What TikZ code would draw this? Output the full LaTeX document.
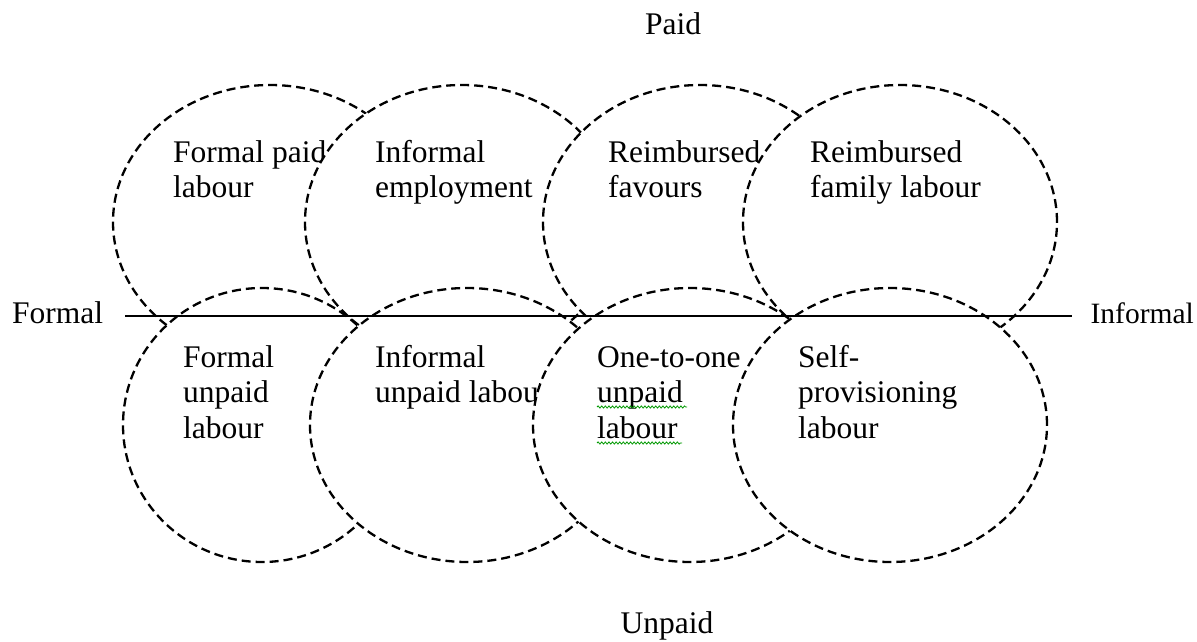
\documentclass[tikz,border=0pt]{standalone}
\usepackage{fontspec}
\setmainfont{Liberation Serif}
\usetikzlibrary{shapes.geometric,decorations.pathmorphing}
% multi-line label whose baseline is that of its first line
\newcommand\zonelines[1]{\vtop{\halign{##\hfil\cr#1\crcr}}}
\begin{document}
\begin{tikzpicture}[x=1pt,y=-1pt,
  zone/.style={ellipse, draw=black, fill=white, dash pattern=on 9pt off 5pt,
    line width=2.3pt, inner sep=0pt, minimum width=314pt, minimum height=274pt},
  labeltext/.style={inner sep=0pt, font=\fontsize{31.5}{35.5}\selectfont},
  zonetext/.style={labeltext, anchor=base west},
  squiggle/.style={draw=green!60!black, line width=0.8pt, decorate,
    decoration={snake, amplitude=1.1pt, segment length=3.6pt}}
]
\path[use as bounding box] (0,0) rectangle (1197,642);

% paid row
\node[zone] (c1) at (270,222) {};
\node[zonetext] (t1) at (173,162) {\zonelines{Formal paid\cr labour}};
\node[zone] (c2) at (462,222) {};
\node[zonetext] (t2) at (375,162) {\zonelines{Informal\cr employment}};
\node[zone] (c3) at (700,222) {};
\node[zonetext] (t3) at (608,162) {\zonelines{Reimbursed\cr favours}};
\node[zone] (c4) at (900,222) {};
\node[zonetext] (t4) at (810,162) {\zonelines{Reimbursed\cr family labour}};

% unpaid row
\node[zone, minimum width=278pt] (c5) at (262,425) {};
\node[zonetext] (t5) at (183,367) {\zonelines{Formal\cr unpaid\cr labour}};
\node[zone] (c6) at (467,425) {};
\node[zonetext] (t6) at (375,367) {\zonelines{Informal\cr unpaid labour}};
\node[zone] (c7) at (690,425) {};
\node[zonetext] (t7) at (597,367) {\zonelines{One-to-one\cr unpaid\cr labour}};
\node[zone] (c8) at (890,425) {};
\node[zonetext] (t8) at (798,367) {\zonelines{Self-\cr provisioning\cr labour}};

% spell-check marks under two words
\coordinate (s1a) at (597,407); \coordinate (s1b) at (687,407);
\coordinate (s2a) at (597,443); \coordinate (s2b) at (682,443);
\path[squiggle] (s1a) -- (s1b);
\path[squiggle] (s2a) -- (s2b);

% formal / informal axis
\coordinate (axisL) at (125,316);
\coordinate (axisR) at (1072,316);
\draw[line width=2pt] (axisL) -- (axisR);

% axis labels
\node[labeltext, anchor=base west] (formal) at (12,323) {Formal};
\node[labeltext, anchor=base east, font=\fontsize{29.5}{34}\selectfont] (informal) at (1194,323) {Informal};
\node[labeltext, anchor=base] (paid) at (673,35) {Paid};
\node[labeltext, anchor=base] (unpaid) at (667,633) {Unpaid};
\end{tikzpicture}
\end{document}
